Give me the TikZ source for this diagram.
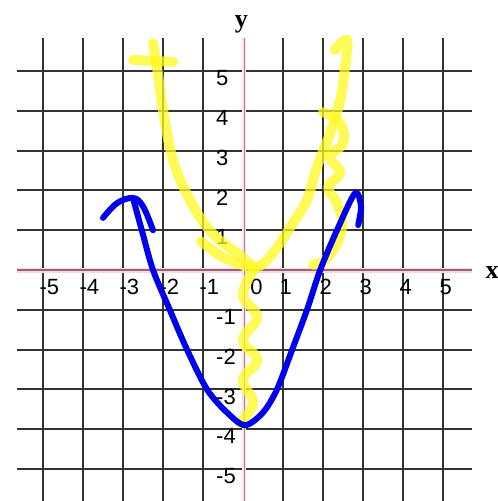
\documentclass[tikz,border=0pt]{standalone}
\usepackage{fontspec}
\setsansfont{Liberation Sans}
\newfontfamily\namefont{Liberation Serif}
\usetikzlibrary{positioning}
\definecolor{axispink}{RGB}{250,214,224}
\definecolor{axisline}{RGB}{150,100,120}
\definecolor{hilite}{RGB}{255,250,30}
\definecolor{pen}{RGB}{0,0,235}

\begin{document}
\begin{tikzpicture}[x=40pt,y=39.8pt,
    gridline/.style={line width=2pt,black!80},
    ticklabel/.style={font=\fontsize{22}{22}\sffamily,inner sep=0pt,anchor=west},
    axislabel/.style={font=\fontsize{26}{26}\namefont\bfseries,inner sep=0pt},
    yellowpen/.style={line width=10pt,hilite,opacity=0.75,line cap=round,line join=round},
    bluepen/.style={line width=6pt,pen,line cap=round,line join=round}]
    \fill[white] (-6.075,-5.804) rectangle (6.375,6.784);
    \useasboundingbox (-6.075,-5.804) rectangle (6.375,6.784);
    % grid
    \foreach \i in {-5,...,-1,1,2,3,4,5} {
      \draw[gridline] (\i,5.83) -- (\i,-5.9);
      \draw[gridline] (-5.65,\i) -- (5.725,\i);
    }
    % axes
    \draw[line width=5pt,axispink] (-5.65,0) -- (5.725,0);
    \draw[line width=1.3pt,axisline] (-5.65,0) -- (5.725,0);
    \draw[line width=4pt,axispink!70] (0.03,5.83) -- (0.03,-5.9);
    \draw[line width=1.2pt,axisline!80] (0.03,5.83) -- (0.03,-5.9);
    \node[axislabel] (xname) at (6.225,-0.07) {x};
    \node[axislabel] (yname) at (-0.04,6.18) {y};
    % tick labels
    \foreach \i in {-5,...,-1,1,2,3,4,5} {
      \node[ticklabel] (xl\i) at (\i-0.09,-0.43) {\i};
      \node[ticklabel] (yl\i) at (-0.675,\i-0.18) {\i};
    }
    \node[ticklabel] (xl0) at (0.18,-0.43) {0};
    % yellow sketch
    \draw[yellowpen] plot[smooth,tension=0.6] coordinates {(-2.25,5.7) (-2.13,4.95)
      (-2.0,4.02) (-1.75,2.76) (-1.33,1.76) (-0.9,1.08) (-0.5,0.68) (-0.08,0.38)
      (0.3,0.08) (0.6,0.25) (0.93,0.68) (1.25,1.18) (1.6,1.76) (1.85,2.59)
      (2.18,3.44) (2.43,4.27) (2.55,5.1) (2.6,5.78) (2.3,5.53)};
    \draw[yellowpen] plot[smooth] coordinates {(-1.05,0.72) (-0.5,0.32) (0.2,0.05)};
    \draw[yellowpen] (-2.75,5.28) -- (-1.75,5.23);
    \draw[yellowpen] plot[smooth,tension=0.7] coordinates {(0.3,0.05) (0,-0.63)
      (0.35,-1.18) (0,-1.76) (0.35,-2.26) (0,-2.76) (0.25,-3.34) (-0.08,-3.84)};
    \draw[yellowpen] plot[smooth,tension=0.7] coordinates {(2.0,3.97) (2.43,3.69)
      (2.5,3.19) (2.18,2.84) (2.43,2.44) (2.13,2.09) (2.35,1.68) (2.48,1.18)
      (2.35,0.68) (2.05,0.25) (1.75,0.13)};
    % blue sketch
    \draw[bluepen] plot[smooth,tension=0.6] coordinates {(-3.5,1.31) (-3.15,1.68)
      (-2.75,1.81) (-2.5,1.6) (-2.25,1.0)};
    \draw[bluepen] plot[smooth,tension=0.5] coordinates {(-2.75,1.81) (-2.53,1)
      (-2.25,0) (-1.83,-1) (-1.4,-2) (-0.9,-3) (-0.4,-3.58) (0.05,-3.9)
      (0.5,-3.58) (0.85,-3) (1.23,-2) (1.6,-1) (1.93,0) (2.35,1) (2.8,1.93)
      (2.95,1.6) (2.88,1.13)};
\end{tikzpicture}
\end{document}
